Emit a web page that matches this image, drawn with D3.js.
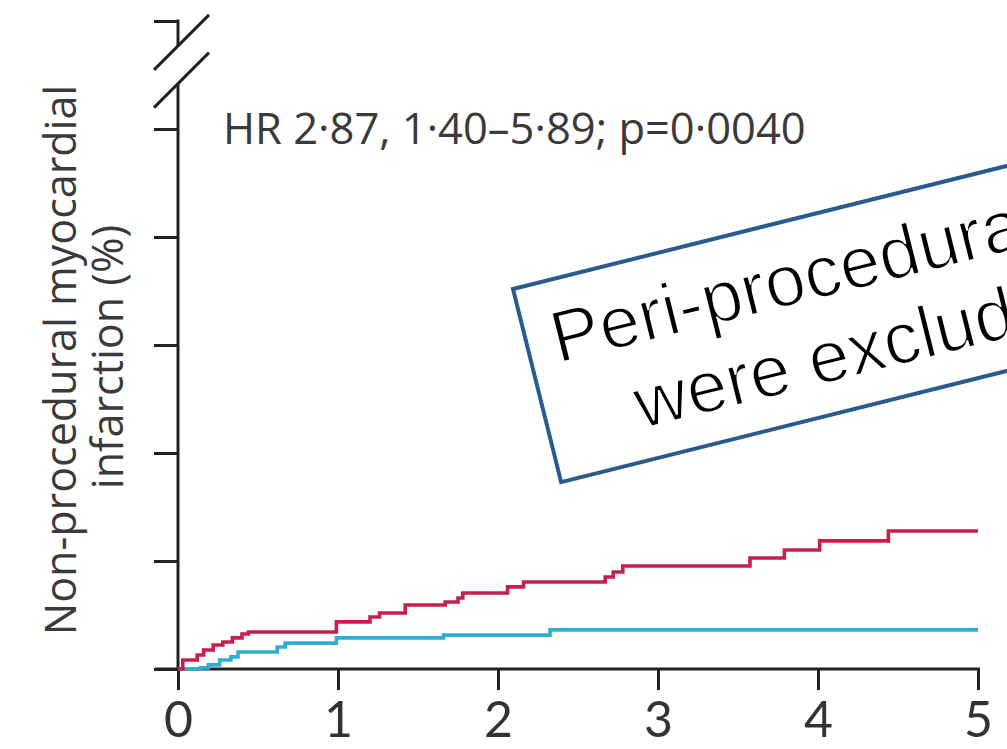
<!DOCTYPE html>
<html>
<head>
<meta charset="utf-8">
<script src="https://cdn.jsdelivr.net/npm/d3@7"></script>
<style>
  html, body { margin: 0; padding: 0; background: #fff; }
  svg { display: block; }
  .lbl { font-family: "Open Sans", "Noto Sans", sans-serif; fill: #3a3a3a; }
  .tickLbl { font-family: Lato, "Open Sans", sans-serif; }
  .note { font-family: "Liberation Sans", Arial, sans-serif; fill: #000; }
</style>
</head>
<body>
<svg id="chart" width="1007" height="749"></svg>
<script>
// Years since randomisation (x axis)
const years = [0, 1, 2, 3, 4, 5];
// Y axis tick positions (%), the top one sits above the axis break
const yTicks = [0, 5, 10, 15, 20, 25, 30];

// Kaplan-Meier cumulative incidence, PCI arm (red)
const pciTime = [0, 0.03, 0.12, 0.16, 0.22, 0.28, 0.34, 0.40, 0.44, 0.99, 1.20, 1.26, 1.42, 1.67, 1.75, 1.78,
                 2.06, 2.16, 2.67, 2.72, 2.78, 3.575, 3.79, 4.01, 4.44, 5.0];
const pciRisk = [0, 0.42, 0.65, 0.88, 1.11, 1.25, 1.44, 1.62, 1.71, 2.18, 2.41, 2.59, 2.96, 3.10, 3.29, 3.52,
                 3.80, 4.03, 4.26, 4.49, 4.77, 5.14, 5.51, 5.93, 6.39, 6.39];

// Kaplan-Meier cumulative incidence, CABG arm (blue)
const cabgTime = [0, 0.05, 0.14, 0.19, 0.26, 0.33, 0.375, 0.62, 0.67, 0.99, 1.66, 2.325, 5.0];
const cabgRisk = [0, 0, 0.05, 0.19, 0.42, 0.56, 0.79, 1.02, 1.20, 1.44, 1.57, 1.81, 1.81];

const statText = "HR 2·87, 1·40–5·89; p=0·0040";
const yTitle = ["Non-procedural myocardial", "infarction (%)"];
const noteLines = ["Peri-procedural MI", "were excluded"];

const svg = d3.select("#chart");
svg.append("rect").attr("width", 1007).attr("height", 749).attr("fill", "#fff");

const x = d3.scaleLinear().domain([0, 5]).range([178, 978]);
const y = d3.scaleLinear().domain([0, 30]).range([669, 21]);

const axisColor = "#222";

// x axis
const gx = svg.append("g").attr("transform", `translate(0,${y(0)})`)
  .call(d3.axisBottom(x).tickValues(years).tickSize(21).tickSizeOuter(0).tickPadding(0).tickFormat(d3.format("d")));
gx.select(".domain").remove();
gx.selectAll(".tick line").attr("stroke", axisColor).attr("stroke-width", 3);
gx.selectAll(".tick text")
  .attr("class", "tickLbl")
  .attr("y", 68).attr("dy", null)
  .attr("font-size", 50).attr("fill", "#333");
svg.append("line")
  .attr("x1", x(0) - 23).attr("x2", x(5) + 2)
  .attr("y1", y(0)).attr("y2", y(0))
  .attr("stroke", axisColor).attr("stroke-width", 3);

// y axis: unlabelled ticks with a break below the top tick
const gy = svg.append("g").attr("transform", `translate(${x(0)},0)`)
  .call(d3.axisLeft(y).tickValues(yTicks).tickSize(24).tickSizeOuter(0).tickFormat(""));
gy.select(".domain").remove();
gy.selectAll(".tick line").attr("stroke", axisColor).attr("stroke-width", 3);

const breakHi = 28.85, breakLo = 27.1;
svg.append("line").attr("x1", x(0)).attr("x2", x(0))
  .attr("y1", y(30) - 1.5).attr("y2", y(breakHi))
  .attr("stroke", axisColor).attr("stroke-width", 3);
svg.append("line").attr("x1", x(0)).attr("x2", x(0))
  .attr("y1", y(breakLo)).attr("y2", y(0) + 1.5)
  .attr("stroke", axisColor).attr("stroke-width", 3);
[breakHi, breakLo].forEach(v => {
  const cx = x(0) + 3, cy = y(v) - 3;
  svg.append("line")
    .attr("x1", cx - 27).attr("y1", cy + 27)
    .attr("x2", cx + 28).attr("y2", cy - 28)
    .attr("stroke", axisColor).attr("stroke-width", 3);
});

// curves
const line = d3.line().curve(d3.curveStepAfter).x(d => x(d[0])).y(d => y(d[1]));
const cabg = d3.zip(cabgTime, cabgRisk);
const pci = d3.zip(pciTime, pciRisk);
svg.append("path").datum(cabg).attr("d", line)
  .attr("fill", "none").attr("stroke", "#2eaed1").attr("stroke-width", 3.6);
svg.append("path").datum(pci).attr("d", line)
  .attr("fill", "none").attr("stroke", "#c71f4d").attr("stroke-width", 3.6);

// statistics
svg.append("text").attr("class", "lbl")
  .attr("x", 223).attr("y", 144)
  .attr("font-size", 43.5).attr("fill", "#3d3d3d")
  .text(statText);

// y axis title
yTitle.forEach((t, i) => {
  svg.append("text").attr("class", "lbl")
    .attr("transform", `translate(${76 + i * 47},${360 - i * 3}) rotate(-90)`)
    .attr("text-anchor", "middle")
    .attr("font-size", 43).attr("fill", "#444")
    .text(t);
});

// annotation box
const note = svg.append("g").attr("transform", "translate(513,289) rotate(-14)");
note.append("rect").attr("x", 0).attr("y", 0).attr("width", 652).attr("height", 199)
  .attr("fill", "#fff").attr("stroke", "#2a5b8f").attr("stroke-width", 4);
noteLines.forEach((t, i) => {
  note.append("text").attr("class", "note")
    .attr("x", 326).attr("y", 83 + i * 84)
    .attr("text-anchor", "middle")
    .attr("font-size", 73)
    .attr("stroke", "#fff").attr("stroke-width", 1.8)
    .text(t);
});
</script>
</body>
</html>
